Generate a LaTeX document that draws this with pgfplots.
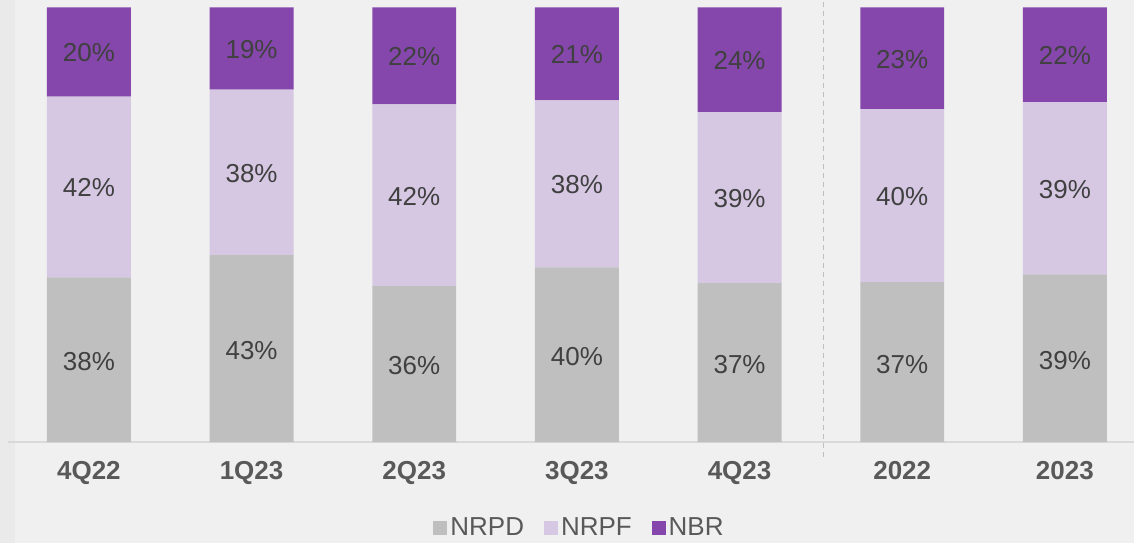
\documentclass[border=0pt]{standalone}
\usepackage{pgfplots}
\pgfplotsset{compat=1.18}
\usepackage{fontspec}
\setmainfont{Liberation Sans}
\definecolor{bg}{HTML}{F0F0F0}
\definecolor{bgstrip}{HTML}{EAEAEA}
\definecolor{cNRPD}{HTML}{BFBFBF}
\definecolor{cNRPF}{HTML}{D6C8E3}
\definecolor{cNBR}{HTML}{8547AB}
\definecolor{txt}{HTML}{404040}
\definecolor{lab}{HTML}{595959}
\definecolor{lineg}{HTML}{D9D9D9}
\definecolor{dashg}{HTML}{BFBFBF}

\begin{document}
\begin{tikzpicture}
\fill[bg] (0,0) rectangle (1135pt,543pt);
\fill[bgstrip] (0,0) rectangle (15pt,543pt);
\begin{axis}[
  at={(8pt,101pt)}, anchor=south west,
  scale only axis, width=1127pt, height=435pt,
  xmin=-0.4975, xmax=6.425, ymin=0, ymax=100,
  ybar stacked, bar width=84pt,
  axis x line*=bottom, axis y line=none,
  x axis line style={draw=lineg, line width=2pt, -},
  xtick={0,...,6}, ytick=\empty,
  xticklabels={4Q22,1Q23,2Q23,3Q23,4Q23,2022,2023},
  major tick length=0pt,
  xticklabel style={font=\fontsize{26}{30}\selectfont\bfseries, text=lab, anchor=base, yshift=-37pt},
  clip=false,
  legend image code/.code={\fill[#1] (0pt,-7pt) rectangle (14pt,7pt);},
  legend columns=3,
  legend style={at={(0.508,-0.1966)}, anchor=center, draw=none, fill=none,
    font=\fontsize{26}{30}\selectfont, text=lab,
    nodes={inner sep=3pt},
    /tikz/every even column/.append style={column sep=17pt}},
]
\addplot[fill=cNRPD, draw=none] coordinates {(0,37.9) (1,43.0) (2,35.9) (3,40.2) (4,36.6) (5,36.8) (6,38.6)};
\addplot[fill=cNRPF, draw=none] coordinates {(0,41.6) (1,38.1) (2,41.8) (3,38.4) (4,39.3) (5,39.8) (6,39.6)};
\addplot[fill=cNBR, draw=none] coordinates {(0,20.5) (1,18.9) (2,22.3) (3,21.4) (4,24.1) (5,23.4) (6,21.8)};
\legend{NRPD,NRPF,NBR}
\draw[dashg, line width=1pt, dash pattern=on 5pt off 4pt] (axis cs:4.515,-3.45) -- (axis cs:4.515,101.6);
\end{axis}
\begin{axis}[
  at={(8pt,101pt)}, anchor=south west,
  scale only axis, width=1127pt, height=435pt,
  xmin=-0.4975, xmax=6.425, ymin=0, ymax=100,
  hide axis, clip=false,
  point meta=explicit symbolic,
  every node near coord/.append style={anchor=center, font=\fontsize{26}{30}\selectfont, text=txt, inner sep=0pt},
]
\addplot[draw=none, mark=none, nodes near coords] coordinates {
  (0,18.5) [38\%] (1,21.0) [43\%] (2,17.5) [36\%] (3,19.6) [40\%] (4,17.8) [37\%] (5,17.9) [37\%] (6,18.8) [39\%]};
\addplot[draw=none, mark=none, nodes near coords] coordinates {
  (0,58.5) [42\%] (1,61.8) [38\%] (2,56.6) [42\%] (3,59.2) [38\%] (4,56.0) [39\%] (5,56.5) [40\%] (6,58.2) [39\%]};
\addplot[draw=none, mark=none, nodes near coords] coordinates {
  (0,89.6) [20\%] (1,90.4) [19\%] (2,88.7) [22\%] (3,89.1) [21\%] (4,87.8) [24\%] (5,88.1) [23\%] (6,88.9) [22\%]};
\end{axis}
\end{tikzpicture}
\end{document}
